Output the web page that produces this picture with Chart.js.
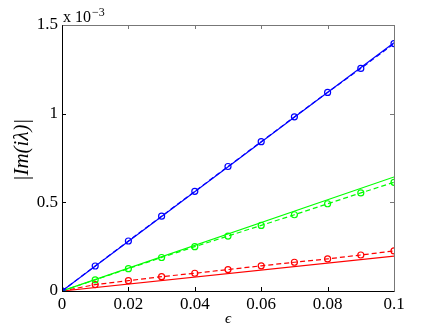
<!DOCTYPE html>
<html><head><meta charset="utf-8">
<script src="https://cdn.jsdelivr.net/npm/chart.js@4/dist/chart.umd.min.js"></script>
<style>html,body{margin:0;padding:0;background:#fff}#wrap{width:436px;height:328px}</style>
</head><body><div id="wrap"><canvas id="c" width="436" height="328"></canvas></div>
<script>
const xPoints = [0, 0.01, 0.02, 0.03, 0.04, 0.05, 0.06, 0.07, 0.08, 0.09, 0.1];
const blueDots = [0, 0.141, 0.282, 0.422, 0.562, 0.702, 0.842, 0.982, 1.12, 1.255, 1.395];
const greenDots = [0, 0.063, 0.126, 0.189, 0.25, 0.31, 0.37, 0.43, 0.492, 0.553, 0.613];
const redDots = [0, 0.036, 0.058, 0.081, 0.1, 0.121, 0.142, 0.162, 0.181, 0.203, 0.226];
const lineX = [0, 0.1];
const blueLine = [0, 1.4];
const greenLine = [0, 0.643];
const redLine = [0, 0.197];
const xTicks = [0, 0.02, 0.04, 0.06, 0.08, 0.1];
const xTickLabels = ['0', '0.02', '0.04', '0.06', '0.08', '0.1'];
const yTicks = [0, 0.5, 1, 1.5];
const yTickLabels = ['0', '0.5', '1', '1.5'];
const yTitle = '|Im(i\u03bb)|';
const xTitle = '\u03f5';

const FONT = 'Liberation Serif';
function pts(xs, ys){ return xs.map((x,i)=>({x:x,y:ys[i]})); }
function solid(ys, col){ return {data:pts(lineX, ys), borderColor:col, borderWidth:1.2, pointRadius:0, showLine:true, fill:false}; }
function dashed(ys, col){ return {data:pts(xPoints, ys), borderColor:col, borderWidth:1.2, borderDash:[5,3], pointRadius:3, pointBorderWidth:1.2, pointBackgroundColor:'rgba(255,255,255,0)', pointBorderColor:col, showLine:true, fill:false}; }

const framePlugin = {
  id:'frame',
  afterDraw(chart){
    const {ctx, chartArea:a, scales} = chart;
    ctx.save();
    ctx.lineWidth = 1;
    ctx.strokeStyle = '#000';
    xTicks.forEach(v=>{
      const px = Math.round(scales.x.getPixelForValue(v))+0.5;
      ctx.beginPath(); ctx.moveTo(px, a.bottom); ctx.lineTo(px, a.bottom-4); ctx.stroke();
      ctx.strokeStyle='#777';
      ctx.beginPath(); ctx.moveTo(px, a.top); ctx.lineTo(px, a.top+4); ctx.stroke();
      ctx.strokeStyle='#000';
    });
    yTicks.forEach(v=>{
      const py = Math.round(scales.y.getPixelForValue(v))+0.5;
      ctx.beginPath(); ctx.moveTo(a.left, py); ctx.lineTo(a.left+4, py); ctx.stroke();
      ctx.strokeStyle='#777';
      ctx.beginPath(); ctx.moveTo(a.right, py); ctx.lineTo(a.right-4, py); ctx.stroke();
      ctx.strokeStyle='#000';
    });
    const L=Math.round(a.left)+0.5, R=Math.round(a.right)+0.5, T=Math.round(a.top)+0.5, B=Math.round(a.bottom)+0.5;
    ctx.strokeStyle='#777';
    ctx.beginPath(); ctx.moveTo(L,T); ctx.lineTo(R,T); ctx.lineTo(R,B); ctx.stroke();
    ctx.strokeStyle='#000';
    ctx.beginPath(); ctx.moveTo(L,T); ctx.lineTo(L,B); ctx.lineTo(R,B); ctx.stroke();
    // exponent label
    ctx.fillStyle='#000';
    ctx.textBaseline='alphabetic';
    ctx.textAlign='left';
    ctx.font = '16px "'+FONT+'"';
    ctx.fillText('x 10', a.left+1, a.top-3);
    const w = ctx.measureText('x 10').width;
    ctx.font = '12px "'+FONT+'"';
    ctx.fillText('\u22123', a.left+1+w+1, a.top-9);
    // y title
    ctx.save();
    ctx.translate(22, (a.top+a.bottom)/2 - 8);
    ctx.rotate(-Math.PI/2);
    ctx.textAlign='center';
    ctx.textBaseline='middle';
    ctx.font = 'italic 21px "'+FONT+'"';
    ctx.fillText(yTitle, 0, 0);
    ctx.restore();
    ctx.restore();
  }
};

new Chart(document.getElementById('c'), {
  type:'scatter',
  data:{datasets:[
    solid(blueLine,'#0000ff'), dashed(blueDots,'#0000ff'),
    solid(greenLine,'#00ff00'), dashed(greenDots,'#00ff00'),
    solid(redLine,'#ff0000'), dashed(redDots,'#ff0000')
  ]},
  options:{
    responsive:false, animation:false, devicePixelRatio:1,
    layout:{padding:{top:25, right:42, left:0, bottom:0}},
    plugins:{legend:{display:false}, tooltip:{enabled:false}},
    scales:{
      x:{type:'linear', min:0, max:0.1,
        afterBuildTicks(s){ s.ticks = xTicks.map(v=>({value:v})); },
        afterFit(s){ s.height = 37; },
        grid:{display:false, drawTicks:false},
        border:{display:false},
        ticks:{autoSkip:false, maxRotation:0, padding:3, color:'#000', font:{family:FONT, size:17},
          callback(v){ const i = xTicks.indexOf(v); return i>=0 ? xTickLabels[i] : ''; }},
        title:{display:true, text:xTitle, color:'#000', font:{family:FONT, size:15, style:'italic'}, padding:{top:-5,bottom:0}}
      },
      y:{type:'linear', min:0, max:1.5,
        afterBuildTicks(s){ s.ticks = yTicks.map(v=>({value:v})); },
        afterFit(s){ s.width = 62; },
        grid:{display:false, drawTicks:false},
        border:{display:false},
        ticks:{autoSkip:false, padding:4, color:'#000', font:{family:FONT, size:17},
          callback(v){ const i = yTicks.indexOf(v); return i>=0 ? yTickLabels[i] : ''; }},
        title:{display:false}
      }
    }
  },
  plugins:[framePlugin]
});
</script></body></html>
